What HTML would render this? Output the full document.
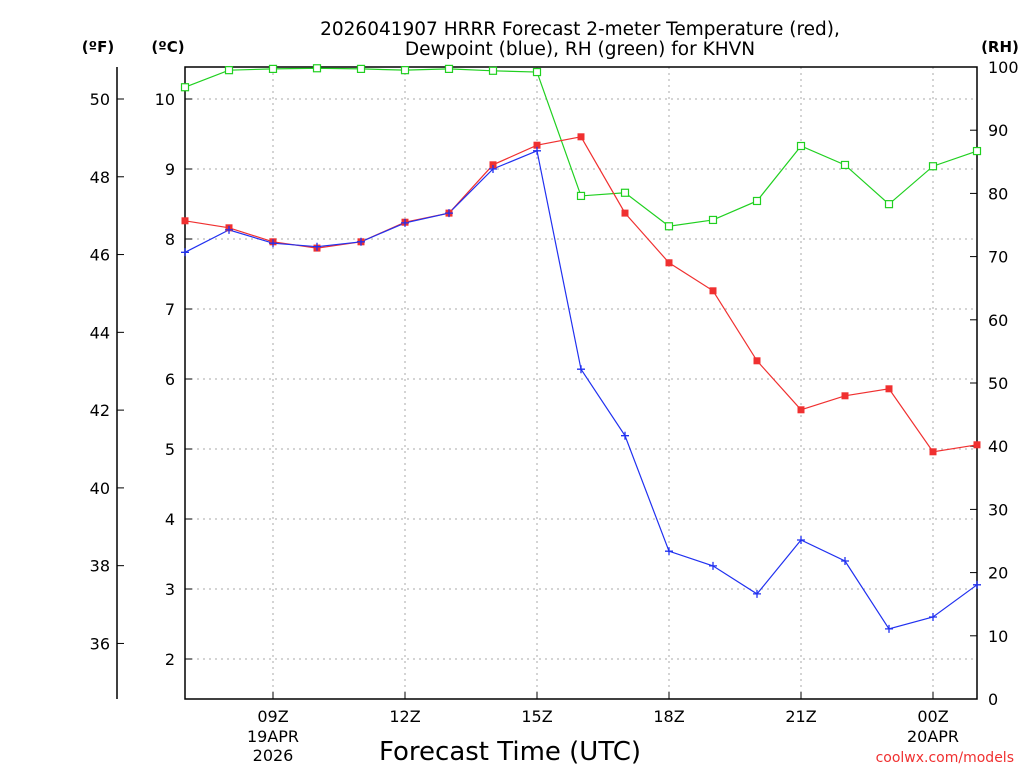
<!DOCTYPE html>
<html><head><meta charset="utf-8"><style>
body{margin:0;background:#fff;}
svg{font-family:"DejaVu Sans","Liberation Sans",sans-serif;}
</style></head><body>
<svg id="c" width="1024" height="768">
<text x="580" y="35" font-size="18.5" text-anchor="middle">2026041907 HRRR Forecast 2-meter Temperature (red),</text>
<text x="580" y="55" font-size="18.5" text-anchor="middle">Dewpoint (blue), RH (green) for KHVN</text>
<text x="98" y="52" font-size="15" font-weight="bold" text-anchor="middle">(ºF)</text>
<text x="168" y="52" font-size="15" font-weight="bold" text-anchor="middle">(ºC)</text>
<text x="1000" y="52" font-size="15" font-weight="bold" text-anchor="middle">(RH)</text>
<text x="510" y="760" font-size="26" text-anchor="middle">Forecast Time (UTC)</text>
<text x="1014" y="762" font-size="14" fill="#f03030" text-anchor="end">coolwx.com/models</text>
<g id="grid"></g>
<g id="axes"></g>
<g id="series"></g>
</svg>
<script>
const hours=[7,8,9,10,11,12,13,14,15,16,17,18,19,20,21,22,23,24,25];
const tempC=[8.26,8.16,7.96,7.87,7.96,8.24,8.37,9.06,9.34,9.46,8.37,7.66,7.26,6.26,5.56,5.76,5.86,4.96,5.06];
const dewC=[7.81,8.13,7.94,7.89,7.96,8.23,8.37,9.0,9.26,6.14,5.19,3.54,3.33,2.93,3.7,3.4,2.43,2.6,3.06];
const rh=[96.8,99.5,99.7,99.8,99.7,99.5,99.7,99.4,99.2,79.6,80.1,74.8,75.8,78.8,87.5,84.5,78.3,84.3,86.7];
const cTicks=[2,3,4,5,6,7,8,9,10];
const fTicks=[36,38,40,42,44,46,48,50];
const rhTicks=[0,10,20,30,40,50,60,70,80,90,100];
const xTickHours=[9,12,15,18,21,24];
const xTickLabels=["09Z","12Z","15Z","18Z","21Z","00Z"];
const X0=185,X1=977,Y0=67,Y1=699;
const xs=h=>X0+(h-7)*44;
const yc=c=>659-(c-2)*70;
const yf=f=>yc((f-32)*5/9);
const yr=r=>Y1-r*6.32;
const NS="http://www.w3.org/2000/svg";
function mk(tag,attrs,parent,txt){const e=document.createElementNS(NS,tag);for(const k in attrs)e.setAttribute(k,attrs[k]);if(txt!==undefined)e.textContent=txt;parent.appendChild(e);return e;}
const grid=document.getElementById('grid'),axes=document.getElementById('axes'),ser=document.getElementById('series');
cTicks.forEach(c=>{const y=yc(c);
 const l=mk('line',{x1:X0,x2:X1,y1:y,y2:y,stroke:'#aaa','stroke-dasharray':'2,4'},grid);
 
 mk('line',{x1:X0,x2:X0+7,y1:y,y2:y,stroke:'#000'},axes);
 const t=mk('text',{x:X0-10,y:y+6,'font-size':16,'text-anchor':'end'},axes,String(c));
 });
xTickHours.forEach((h,i)=>{const x=xs(h);
 const l=mk('line',{x1:x,x2:x,y1:Y0,y2:Y1,stroke:'#aaa','stroke-dasharray':'2,4'},grid);
 
 mk('line',{x1:x,x2:x,y1:Y1,y2:Y1-7,stroke:'#000'},axes);
 const t=mk('text',{x:x,y:722,'font-size':16,'text-anchor':'middle'},axes,xTickLabels[i]);
 });
[["19APR",9],["2026",9],["20APR",24]].forEach((d,i)=>{const t=mk('text',{x:xs(d[1]),y:i==1?761:742,'font-size':16,'text-anchor':'middle'},axes,d[0]);
 });
fTicks.forEach(f=>{const y=yf(f);
 mk('line',{x1:117,x2:124,y1:y,y2:y,stroke:'#000'},axes);
 const t=mk('text',{x:110,y:y+6,'font-size':16,'text-anchor':'end'},axes,String(f));
 });
rhTicks.forEach(r=>{const y=yr(r);
 mk('line',{x1:X1-7,x2:X1,y1:y,y2:y,stroke:'#000'},axes);
 const t=mk('text',{x:988,y:y+6,'font-size':16},axes,String(r));
 });
mk('rect',{x:X0,y:Y0,width:X1-X0,height:Y1-Y0,fill:'none',stroke:'#000','stroke-width':1.5},axes);
mk('line',{x1:117,x2:117,y1:Y0,y2:Y1,stroke:'#000','stroke-width':1.5},axes);
function line(vals,yfn,color,name){const p=vals.map((v,i)=>xs(hours[i])+','+yfn(v)).join(' ');
 const e=mk('polyline',{points:p,fill:'none',stroke:color,'stroke-width':1.2},ser);
 }
line(rh,yr,'#20d020','rh-line');
line(tempC,yc,'#f03030','temperature-line');
line(dewC,yc,'#2030f0','dewpoint-line');
rh.forEach((v,i)=>{const e=mk('rect',{x:xs(hours[i])-3.5,y:yr(v)-3.5,width:7,height:7,fill:'#fff',stroke:'#20d020','stroke-width':1.2},ser);
 });
tempC.forEach((v,i)=>{const e=mk('rect',{x:xs(hours[i])-3.5,y:yc(v)-3.5,width:7,height:7,fill:'#f03030'},ser);
 });
dewC.forEach((v,i)=>{const x=xs(hours[i]),y=yc(v);
 const e=mk('path',{d:`M${x-4},${y}H${x+4}M${x},${y-4}V${y+4}`,stroke:'#2030f0','stroke-width':1.3},ser);
 });
</script>
</body></html>
